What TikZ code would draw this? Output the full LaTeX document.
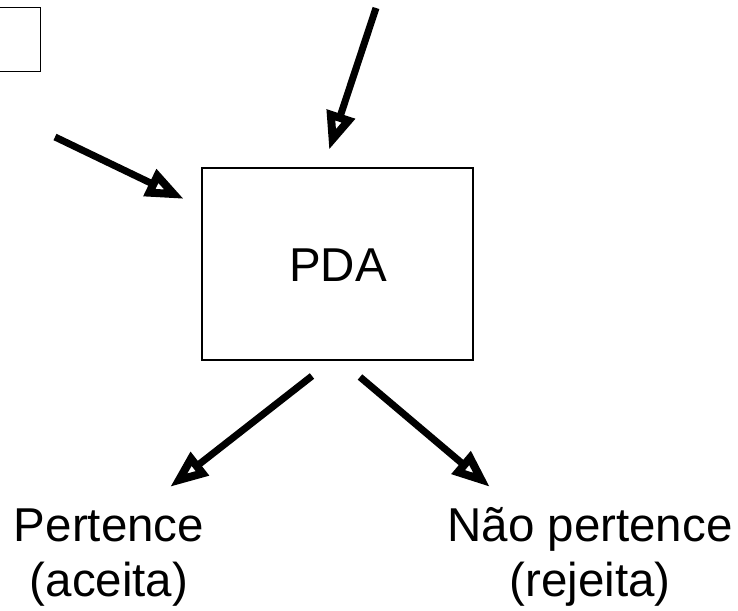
\documentclass[tikz,border=0pt]{standalone}
\usepackage{fontspec}
\setmainfont{Liberation Sans}
\usetikzlibrary{arrows.meta}

\tikzset{
  flow/.style={line width=7pt, -{Triangle[open, length=38pt, width=28pt, line width=8pt 0 0]}},
  box/.style={draw, line width=2pt, minimum width=271pt, minimum height=192pt, inner sep=0pt},
  lbl/.style={font=\fontsize{47.5}{55}\selectfont, inner sep=0pt, align=center},
}

\begin{document}
\begin{tikzpicture}[x=1pt, y=-1pt]
  \useasboundingbox (0,0) rectangle (738,610);
  \clip (0,0) rectangle (738,610);

  % box cut by the left border
  \draw[line width=1.6pt] (-30,7.5) rectangle (40.5,71.5);

  % automaton
  \node[box] (pda) at (337.5,263.5) {};
  \node[lbl, anchor=base] (pdatext) at (338,281) {PDA};

  % incoming arrows
  \coordinate (inA) at (376,8);
  \coordinate (inAend) at (329,150);
  \coordinate (inB) at (55,137);
  \coordinate (inBend) at (184,199);
  \draw[flow] (inA) -- (inAend);
  \draw[flow] (inB) -- (inBend);

  % outcomes (base anchor sits on the last line)
  \node[lbl, anchor=base] (acc) at (109,596.5) {Pertence\\(aceita)};
  \node[lbl, anchor=base] (rej) at (590,596.5) {Não pertence\\(rejeita)};

  \coordinate (outA) at (312,376);
  \coordinate (outAend) at (170,487);
  \coordinate (outB) at (360,377);
  \coordinate (outBend) at (490,487);
  \draw[flow] (outA) -- (outAend);
  \draw[flow] (outB) -- (outBend);
\end{tikzpicture}
\end{document}
